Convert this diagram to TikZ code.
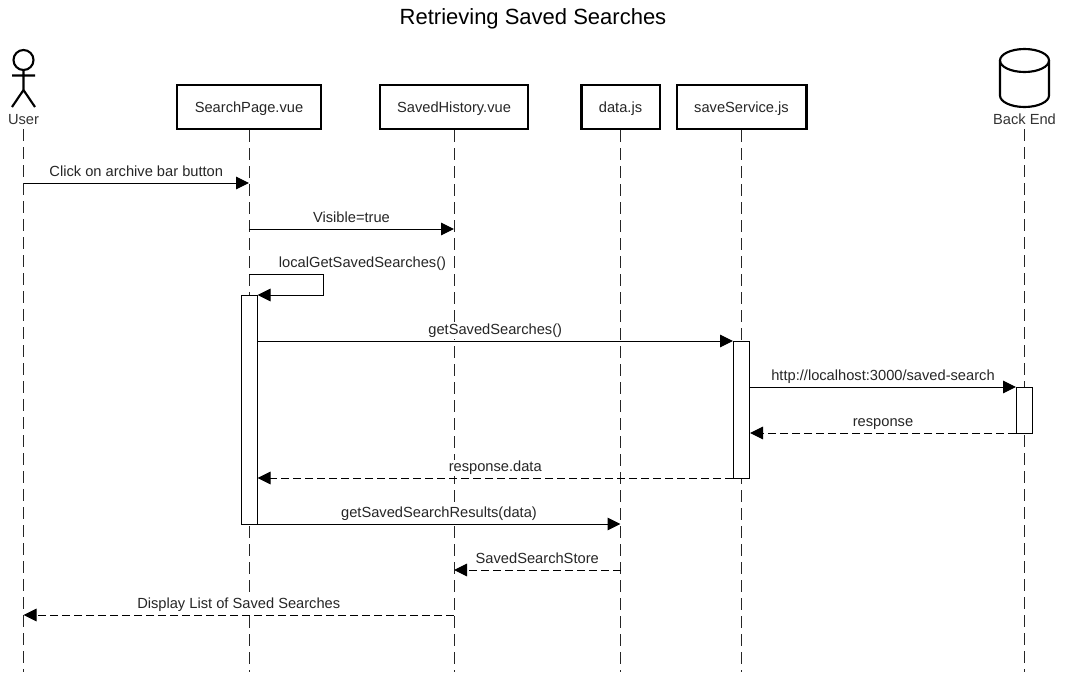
\documentclass[tikz,border=0pt]{standalone}
\usepackage{fontspec}
\setmainfont{Liberation Sans}
\usetikzlibrary{arrows.meta,positioning}

\begin{document}
\begin{tikzpicture}[x=0.75pt,y=-0.75pt,font=\fontsize{11}{13}\selectfont]
       \tikzset{
         part/.style={draw,line width=2pt,minimum height=33pt,inner sep=0pt,text height=8.5pt,text depth=0pt,text=black!85},
         figure/.style={line width=1.6pt,line join=round},
         figlabel/.style={inner sep=3.5pt,text height=8pt,text depth=0pt,text=black!80},
         life/.style={draw,line width=0.75pt,dash pattern=on 9pt off 4.5pt,black!85},
         activation/.style={draw,fill=white,line width=0.75pt,minimum width=12pt,inner sep=0pt},
         call/.style={line width=0.75pt,-{Triangle[length=9.75pt,width=9.5pt]}},
         reply/.style={call,dash pattern=on 6pt off 3pt},
         msgtext/.style={above,yshift=1pt,fill=white,inner xsep=1pt,inner ysep=1pt,text height=8pt,text depth=2.5pt,text=black!85},
         msg/.style={midway,msgtext}
       }
       \useasboundingbox (0,0) rectangle (1065,672);

       \node[font=\fontsize{16.5}{20}\selectfont] (title) at (533,18.5) {Retrieving Saved Searches};

       % participants
       \node[figlabel] (user) at (23.5,119) {User};
       \node[part, minimum width=108pt] (page) at (249,107) {SearchPage.vue};
       \node[part, minimum width=111pt] (history) at (454,107) {SavedHistory.vue};
       \node[part, minimum width=59pt] (data) at (620.5,107) {data.js};
       \node[part, minimum width=97pt] (service) at (741.5,107) {saveService.js};
       \node[figlabel] (backend) at (1024.5,119) {Back End};

       % stick figure and database
       \draw[figure] (23.5,60) circle (10);
       \draw[figure] (23.5,70) -- (23.5,90) (12,75.5) -- (35,75.5)
                     (12,107) -- (23.5,90) -- (35,107);
       \draw[figure] (1000,60.5) -- (1000,95.5)
                     arc[start angle=180,end angle=0,x radius=24.5,y radius=11.5]
                     -- (1049,60.5);
       \draw[figure] (1024.5,60.5) ellipse [x radius=24.5,y radius=11.5];

       % rows of the messages
       \coordinate (end) at (0,672);
       \coordinate (r_1) at (0,183);
       \coordinate (r_2) at (0,229);
       \coordinate (r_3) at (0,274);
       \coordinate (r_4) at (0,295);
       \coordinate (r_5) at (0,341);
       \coordinate (r_6) at (0,387);
       \coordinate (r_7) at (0,433);
       \coordinate (r_8) at (0,478);
       \coordinate (r_9) at (0,524);
       \coordinate (r_10) at (0,570);
       \coordinate (r_11) at (0,615);
       \coordinate (loop_a) at (323,274);
       \coordinate (loop_b) at (323,295);

       \foreach \who in {user,page,history,data,service,backend}
         \path[life] (\who.south) -- (\who |- end);

       \node[activation, minimum height=171.75pt] (act_page) at (249,409.5) {};
       \node[activation, minimum height=102.75pt] (act_service) at (741.5,409.5) {};
       \node[activation, minimum height=34.5pt] (act_backend) at (1024.5,410) {};

       \draw[call] (user |- r_1) -- node[msg] {Click on archive bar button} (page |- r_1);
       \draw[call] (page |- r_2) -- node[msg] {Visible=true} (history |- r_2);
       \draw[call] (page |- r_3) -- (loop_a) -- (loop_b) -- (act_page.east |- r_4);
       \node[msgtext] (loop_text) at (362.5,274) {localGetSavedSearches()};
       \draw[call] (act_page.east |- r_5) -- node[msg] {getSavedSearches()} (act_service.west |- r_5);
       \draw[call] (act_service.east |- r_6) -- node[msg] {http://localhost:3000/saved-search} (act_backend.west |- r_6);
       \draw[reply] (act_backend.west |- r_7) -- node[msg] {response} (act_service.east |- r_7);
       \draw[reply] (act_service.west |- r_8) -- node[msg] {response.data} (act_page.east |- r_8);
       \draw[call] (act_page.east |- r_9) -- node[msg] {getSavedSearchResults(data)} (data |- r_9);
       \draw[reply] (data |- r_10) -- node[msg] {SavedSearchStore} (history |- r_10);
       \draw[reply] (history |- r_11) -- node[msg] {Display List of Saved Searches} (user |- r_11);
\end{tikzpicture}
\end{document}
